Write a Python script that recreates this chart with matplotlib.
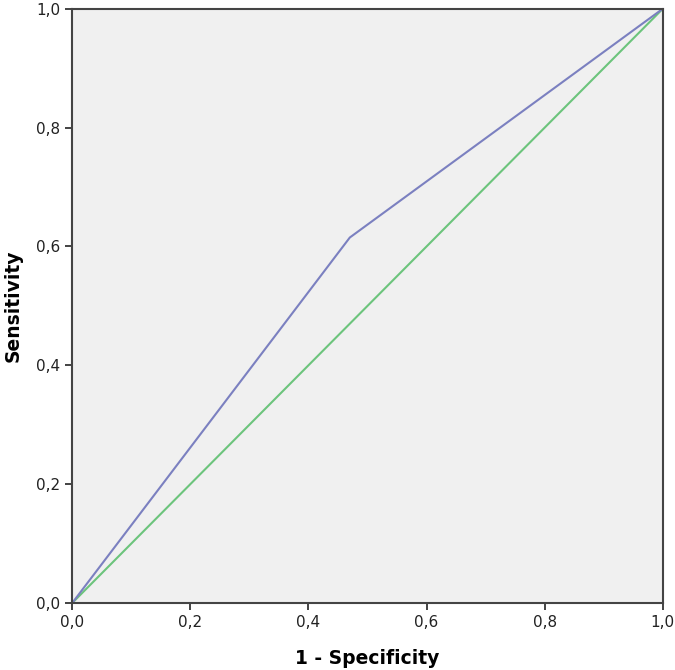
import matplotlib
matplotlib.use("Agg")
import matplotlib.pyplot as plt

# ROC curve values
fpr = [0.0, 0.47, 1.0]
tpr = [0.0, 0.615, 1.0]
ref = [0.0, 1.0]
ticks = [0.0, 0.2, 0.4, 0.6, 0.8, 1.0]
tick_labels = ["0,0", "0,2", "0,4", "0,6", "0,8", "1,0"]

fig = plt.figure(figsize=(6.75, 6.70), dpi=100)
ax = fig.add_axes([0.107, 0.1, 0.875, 0.887])
ax.set_facecolor("#f0f0f0")

ax.plot(ref, ref, color="#6cc47c", lw=1.5)
ax.plot(fpr, tpr, color="#7b80c0", lw=1.5)

ax.set_xlim(0, 1)
ax.set_ylim(0, 1)
ax.set_xticks(ticks)
ax.set_xticklabels(tick_labels)
ax.set_yticks(ticks)
ax.set_yticklabels(tick_labels)
ax.tick_params(direction="out", length=5, width=1.2, labelsize=11, colors="#222222")

for s in ax.spines.values():
    s.set_color("#444444")
    s.set_linewidth(1.5)

ax.set_xlabel("1 - Specificity", fontsize=13.5, fontweight="bold", labelpad=14)
ax.set_ylabel("Sensitivity", fontsize=13.5, fontweight="bold", labelpad=10)

fig.savefig("out.png", dpi=100)
